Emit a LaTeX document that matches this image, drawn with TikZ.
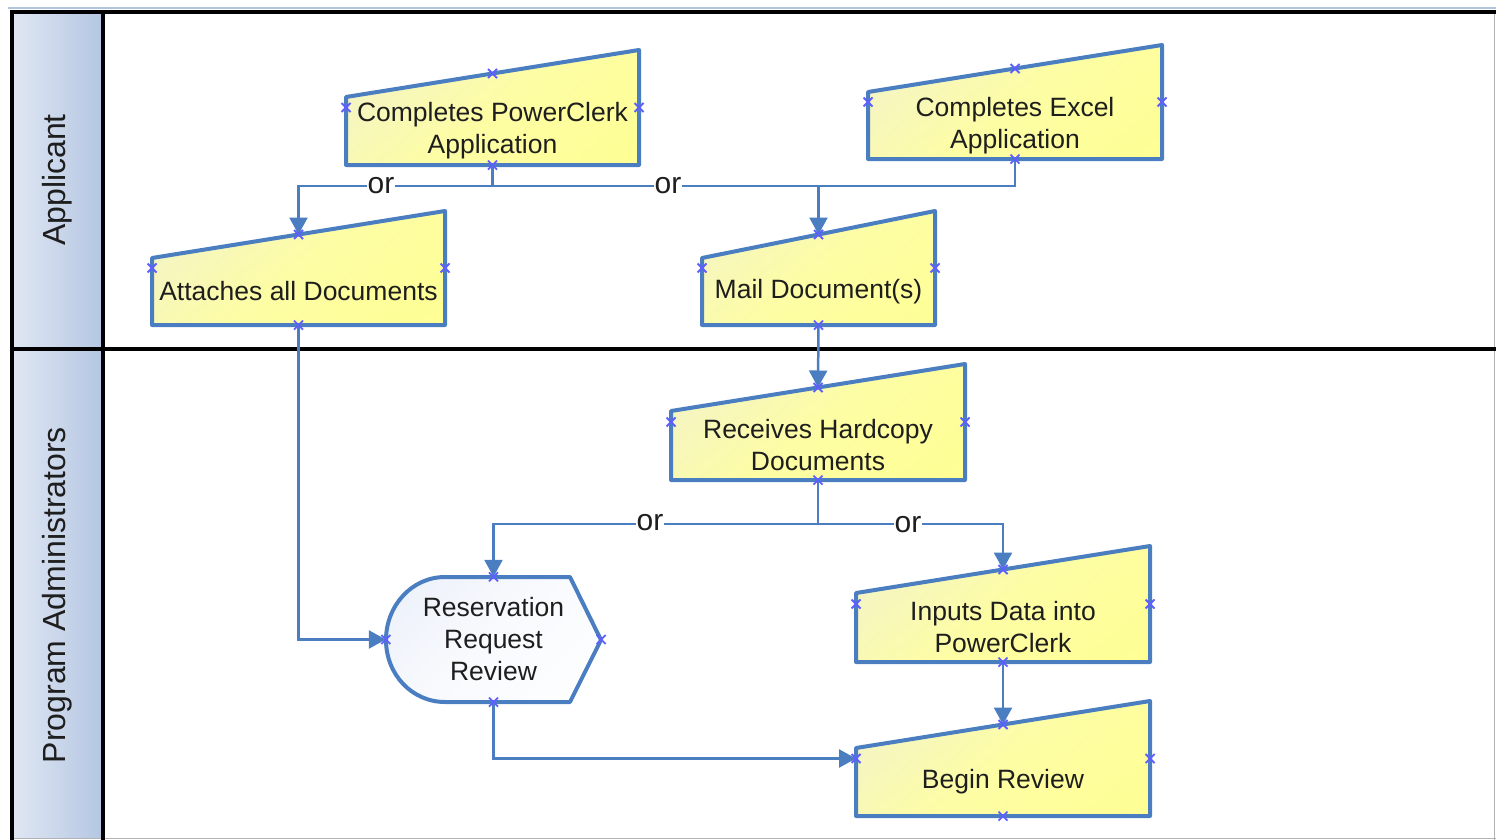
\documentclass[tikz,border=0pt]{standalone}
\usepackage{fontspec}
\setmainfont{Liberation Sans}
\usetikzlibrary{arrows.meta,calc}
\definecolor{vblue}{RGB}{74,126,193}
\definecolor{ylight}{RGB}{240,240,212}
\definecolor{ymid}{RGB}{253,253,165}
\definecolor{ydark}{RGB}{255,255,145}
\definecolor{hlight}{RGB}{224,231,243}
\definecolor{hdark}{RGB}{180,198,226}
\definecolor{cpcol}{RGB}{95,95,255}
\definecolor{txt}{RGB}{30,30,30}
\definecolor{dlight}{RGB}{234,239,249}
\tikzset{
 shapefill/.style={path picture={\shade[top color=ylight, bottom color=ydark, middle color=ymid, shading angle=40]
   ([shift={(-160pt,-160pt)}]path picture bounding box.center) rectangle ([shift={(160pt,160pt)}]path picture bounding box.center);}},
 dispfill/.style={path picture={\shade[top color=dlight, bottom color=white, middle color=white!70!dlight, shading angle=45]
   ([shift={(-130pt,-130pt)}]path picture bounding box.center) rectangle ([shift={(130pt,130pt)}]path picture bounding box.center);}},
 shapeline/.style={draw=vblue, line width=4pt, line join=round},
 lbl/.style={text=txt, font=\fontsize{26.5}{32}\selectfont, align=center, inner sep=0pt},
 conn/.style={draw=vblue, line width=2.5pt},
 arr/.style={conn, -{Triangle[length=17pt,width=18pt]}},
 ortext/.style={fill=white, text=txt, font=\fontsize{30}{30}\selectfont, inner sep=1pt},
 cpx/.style={draw=cpcol, line width=1.8pt},
 lanetext/.style={rotate=90, text=txt, font=\fontsize{32}{32}\selectfont},
 lanehead/.style={left color=hlight, right color=hdark},
 frame/.style={draw=black, line width=4pt},
}
% name, x-left, x-right, y-top of rectangular part, y-bottom, text
\newcommand\minput[6]{%
  \path[shapefill, shapeline] (#2,#5) -- (#2,#4) -- (#3,{#4-47}) -- (#3,#5) -- cycle;
  \node[lbl, minimum width={(#3-#2)*1pt}, minimum height={(#5-#4)*1pt}] (#1) at ({(#2+#3)/2},{(#4+#5)/2}) {#6};
  \coordinate (#1-t) at ({(#2+#3)/2},{#4-23.5});
  \coordinate (#1-l) at (#2,{(#4-47+#5)/2});
  \coordinate (#1-r) at (#3,{(#4-47+#5)/2});
}
\newcommand\cpmark[1]{\draw[cpx] (#1) ++(-4.5,-4.5) -- ++(9,9) ++(-9,0) -- ++(9,-9);}
\newcommand\cpall[1]{\cpmark{#1-t}\cpmark{#1-l}\cpmark{#1-r}\cpmark{#1.south}}
\begin{document}
\begin{tikzpicture}[x=1pt,y=-1pt]
\useasboundingbox (0,0) rectangle (1496,840);
% lane headers
\path[lanehead] (12,12) rectangle (103,349);
\path[lanehead] (12,349) rectangle (103,838);
\node[lanetext] (lane1) at (57,180) {Applicant};
\node[lanetext] (lane2) at (57,595) {Program Administrators};
% frame
\draw[draw={rgb,255:red,176;green,196;blue,222}, line width=1.5pt] (8,8) -- (1496,8);
\draw[draw=gray!60, line width=1.5pt] (10,838.5) -- (1496,838.5);
\draw[draw=gray!60, line width=1.5pt] (1494.5,12) -- (1494.5,840);
\draw[frame] (9.5,12.5) -- (1496,12.5);
\draw[frame] (9.5,349) -- (1496,349);
\draw[frame] (11.5,10.5) -- (11.5,840);
\draw[frame] (103,10.5) -- (103,840);
% shapes
\minput{pc}{346}{639}{97}{165}{Completes PowerClerk\\Application}
\minput{ex}{868}{1162}{92}{159}{Completes Excel\\Application}
\minput{att}{152}{445}{258}{325}{Attaches all Documents}
\minput{mail}{702}{935}{258}{325}{Mail Document(s)}
\minput{rcv}{671}{965}{411}{480}{Receives Hardcopy\\Documents}
\minput{inp}{856}{1150}{593}{662}{Inputs Data into\\PowerClerk}
\minput{beg}{856}{1150}{748}{816}{Begin Review}
\path[dispfill, shapeline]
  (445,577) -- (570,577) -- (601,640) -- (570,702) -- (445,702)
  .. controls (412,702) and (386,674.5) .. (386,640)
  .. controls (386,605.5) and (412,577) .. (445,577) -- cycle;
\node[lbl, minimum width=215pt, minimum height=125pt] (rrr) at (493.5,639.5) {Reservation\\Request\\Review};
% connectors
\coordinate (j1) at (492.5,186);
\coordinate (j2) at (mail-t |- j1);
\coordinate (j3) at (818,524);
\draw[conn] (pc.south) -- (j1);
\draw[arr] (j1) -| (att-t);
\draw[conn] (j1) -- (j2);
\draw[conn] (ex.south) |- (j2);
\draw[arr] (j2) -- (mail-t);
\node[ortext] (or1) at (381,186) {or};
\node[ortext] (or2) at (668,186) {or};
\draw[arr] (att.south) |- (rrr.west);
\draw[arr] (mail.south) -- (rcv-t);
\draw[conn] (rcv.south) -- (j3);
\draw[arr] (j3) -| (rrr.north);
\draw[arr] (j3) -| (inp-t);
\node[ortext] (or3) at (650,523) {or};
\node[ortext] (or4) at (908,525) {or};
\draw[arr] (inp.south) -- (beg-t);
\draw[arr] (rrr.south) |- (beg-l);
% connection point marks
\cpall{pc}\cpall{ex}\cpall{att}\cpall{mail}\cpall{rcv}\cpall{inp}\cpall{beg}
\cpmark{rrr.north}\cpmark{rrr.south}\cpmark{rrr.west}\cpmark{rrr.east}
\end{tikzpicture}
\end{document}
